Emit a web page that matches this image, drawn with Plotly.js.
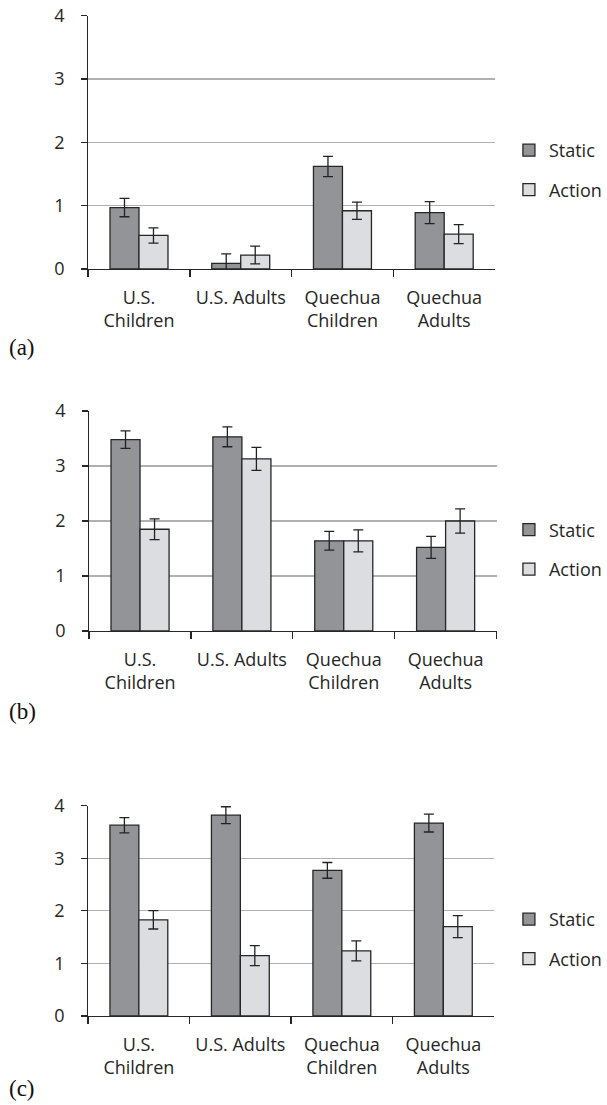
<!DOCTYPE html>
<html>
<head>
<meta charset="utf-8">
<script src="https://cdn.plot.ly/plotly-3.0.1.min.js"></script>
<style>html,body{margin:0;padding:0;background:#fff;}#chart{width:607px;height:1105px;}</style>
</head>
<body>
<div id="chart"></div>
<script>
const categories = ["U.S.<br>Children", "U.S. Adults", "Quechua<br>Children", "Quechua<br>Adults"];
const seriesNames = ["Static", "Action"];
const panelLabels = ["(a)", "(b)", "(c)"];
const yTicks = [0, 1, 2, 3, 4];

// Panel (a)
const staticA = [0.97, 0.09, 1.62, 0.89];
const staticErrA = [0.145, 0.15, 0.16, 0.175];
const actionA = [0.53, 0.22, 0.92, 0.55];
const actionErrA = [0.12, 0.14, 0.135, 0.15];
// Panel (b)
const staticB = [3.48, 3.53, 1.64, 1.52];
const staticErrB = [0.16, 0.18, 0.17, 0.2];
const actionB = [1.85, 3.13, 1.64, 2.0];
const actionErrB = [0.19, 0.21, 0.2, 0.22];
// Panel (c)
const staticC = [3.63, 3.82, 2.77, 3.67];
const staticErrC = [0.145, 0.16, 0.15, 0.17];
const actionC = [1.83, 1.15, 1.24, 1.70];
const actionErrC = [0.175, 0.19, 0.19, 0.21];

const staticColor = "#939498";
const actionColor = "#dcdde0";
const edge = "#262626";
const font = {family: "Open Sans, sans-serif", size: 18, color: "#262626"};

const panels = [
  {s: staticA, se: staticErrA, a: actionA, ae: actionErrA},
  {s: staticB, se: staticErrB, a: actionB, ae: actionErrB},
  {s: staticC, se: staticErrC, a: actionC, ae: actionErrC}
];
const axisSuffix = ["", "2", "3"];
const labelAxisSuffix = ["4", "5", "6"];
const legendNames = ["legend", "legend2", "legend3"];

const traces = [];
panels.forEach((p, i) => {
  const xa = "x" + axisSuffix[i], ya = "y" + axisSuffix[i];
  [[p.s, p.se, staticColor, seriesNames[0]], [p.a, p.ae, actionColor, seriesNames[1]]].forEach((d, j) => {
    traces.push({
      type: "bar", x: categories, y: d[0], name: d[3],
      xaxis: xa, yaxis: ya, legend: legendNames[i], legendgroup: "g" + i + j,
      marker: {color: d[2], line: {color: edge, width: 1.3}},
      error_y: {type: "data", array: d[1], visible: true, color: "#222", thickness: 1.3, width: 5},
      hoverinfo: "skip"
    });
  });
  // empty helper trace so that the label-only y axis is drawn
  traces.push({
    type: "scatter", mode: "markers", x: [], y: [],
    xaxis: xa, yaxis: "y" + labelAxisSuffix[i], showlegend: false, hoverinfo: "skip"
  });
});

const H = 1105, W = 607;
const py = px => 1 - px / H;
const pxx = px => px / W;
const yDomains = [[py(269), py(15.7)], [py(631), py(411)], [py(1016), py(805.7)]];
const xDomains = [[pxx(89), pxx(500)], [pxx(90), pxx(501.5)], [pxx(89), pxx(499)]];
const legendY = [py(170), py(549.5), py(939)];
const labelY = [347, 711.7, 1088];

const layout = {
  width: W, height: H,
  margin: {l: 0, r: 0, t: 0, b: 0},
  paper_bgcolor: "#fff", plot_bgcolor: "#fff",
  barmode: "group", bargap: 0.43, bargroupgap: 0,
  font: font,
  annotations: [],
  showlegend: true
};
for (let i = 0; i < 3; i++) {
  const s = axisSuffix[i];
  layout["xaxis" + s] = {
    domain: xDomains[i], anchor: "y" + s, type: "category",
    showline: true, linecolor: edge, linewidth: 1.3,
    ticks: "outside", tickson: "boundaries", ticklen: 7, tickcolor: edge, tickwidth: 1.3,
    showgrid: false, tickfont: font, tickangle: 0, ticklabelstandoff: 12, fixedrange: true
  };
  layout["yaxis" + s] = {
    domain: yDomains[i], anchor: "x" + s, range: [0, 4], tickvals: yTicks,
    showticklabels: false,
    showline: true, linecolor: edge, linewidth: 1.3,
    ticks: "outside", ticklen: 6, tickcolor: edge, tickwidth: 1.3,
    showgrid: true, gridcolor: "#b0b0b0", gridwidth: 1.3, zeroline: false,
    fixedrange: true
  };
  // label-only axis: same scale, labels set further from the axis line
  layout["yaxis" + labelAxisSuffix[i]] = {
    overlaying: "y" + s, anchor: "x" + s, side: "left", range: [0, 4], tickvals: yTicks,
    showline: false, showgrid: false, zeroline: false,
    ticks: "outside", ticklen: 19, tickcolor: "rgba(0,0,0,0)",
    tickfont: font, fixedrange: true
  };
  layout[legendNames[i]] = {
    x: pxx(514), xanchor: "left", y: legendY[i], yanchor: "middle",
    font: font, traceorder: "grouped", tracegroupgap: 13,
    bgcolor: "rgba(0,0,0,0)", borderwidth: 0
  };
  layout.annotations.push({
    xref: "paper", yref: "paper", x: pxx(7), y: py(labelY[i]),
    xanchor: "left", yanchor: "middle", showarrow: false,
    text: panelLabels[i],
    font: {family: "Liberation Serif, Times New Roman, serif", size: 23, color: "#111"}
  });
}

Plotly.newPlot("chart", traces, layout, {displayModeBar: false, staticPlot: true});
</script>
</body>
</html>
